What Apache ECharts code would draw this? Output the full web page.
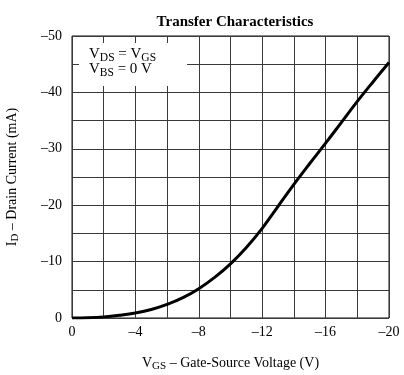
<!DOCTYPE html>
<html><head><meta charset="utf-8">
<script src="https://cdn.jsdelivr.net/npm/echarts@6/dist/echarts.min.js"></script>
<style>html,body{margin:0;padding:0;background:#fff}#c{width:404px;height:375px}</style>
</head><body><div id="c"></div>
<script>
const gateVoltage = [0,-1,-2,-3,-4,-5,-6,-7,-8,-9,-10,-11,-12,-13,-14,-15,-16,-17,-18,-19,-20];
const drainCurrent = [0,-0.05,-0.2,-0.5,-0.9,-1.5,-2.4,-3.6,-5.2,-7.2,-9.6,-12.5,-15.9,-19.8,-23.7,-27.4,-31.0,-34.7,-38.4,-41.9,-45.3];
const xLabelStep = 4;
const yLabelStep = 10;
const titleText = 'Transfer Characteristics';

const FONT = '"Liberation Serif", "DejaVu Serif", serif';
const dash = '\u2013';
function fmt(v){ return v === 0 ? '0' : (v < 0 ? dash + Math.abs(v) : String(v)); }

const chart = echarts.init(document.getElementById('c'), null, {renderer:'canvas'});
chart.setOption({
  animation: false,
  backgroundColor: '#fff',
  title: {
    text: titleText, left: 230, top: 10, textAlign: 'center',
    textStyle: {fontFamily: FONT, fontSize: 15, fontWeight: 'bold', color: '#000'}
  },
  grid: {left: 72, right: 15, top: 36, bottom: 57, containLabel: false, outerBoundsMode: 'none',
    show: true, borderColor: '#111', borderWidth: 1, backgroundColor: 'transparent'},
  xAxis: {
    type: 'value', min: -20, max: 0, interval: 2, inverse: true,
    axisLine: {show: false}, axisTick: {show: false},
    splitLine: {show: true, lineStyle: {color: '#3a3a3a', width: 1}},
    axisLabel: {
      margin: 7, color: '#000', fontFamily: FONT, fontSize: 14,
      formatter: v => (Math.round(v) % xLabelStep === 0 ? fmt(v) : '')
    },
    name: '{m|V}{s|GS}{m| \u2013 Gate-Source Voltage (V)}',
    nameLocation: 'middle', nameGap: 37,
    nameTextStyle: {
      fontFamily: FONT, color: '#000',
      rich: {
        m: {fontFamily: FONT, fontSize: 14, lineHeight: 16, color: '#000'},
        s: {fontFamily: FONT, fontSize: 11, lineHeight: 11, padding: [7,0,0,0], color: '#000'}
      }
    }
  },
  yAxis: {
    type: 'value', min: -50, max: 0, interval: 5, inverse: true,
    axisLine: {show: false}, axisTick: {show: false},
    splitLine: {show: true, lineStyle: {color: '#3a3a3a', width: 1}},
    axisLabel: {
      margin: 10, color: '#000', fontFamily: FONT, fontSize: 14,
      formatter: v => (Math.round(v) % yLabelStep === 0 ? fmt(v) : '')
    },
    name: '{m|I}{s|D}{m| \u2013 Drain Current (mA)}',
    nameLocation: 'middle', nameGap: 52, nameRotate: 90,
    nameTextStyle: {
      fontFamily: FONT, color: '#000',
      rich: {
        m: {fontFamily: FONT, fontSize: 14, lineHeight: 16, color: '#000'},
        s: {fontFamily: FONT, fontSize: 11, lineHeight: 11, padding: [7,0,0,0], color: '#000'}
      }
    }
  },
  graphic: [
    {type: 'rect', shape: {x: 79, y: 43, width: 108, height: 43}, style: {fill: '#fff'}, z: 10},
    {type: 'text', x: 89, y: 47, z: 11, style: {
      text: '{m|V}{s|DS}{m| = V}{s|GS}\n{m|V}{s|BS}{m| = 0 V}',
      fontFamily: FONT, fill: '#000',
      rich: {
        m: {fontFamily: FONT, fontSize: 15, lineHeight: 15, fill: '#000'},
        s: {fontFamily: FONT, fontSize: 11.5, lineHeight: 11, padding: [6,0,0,0], fill: '#000'}
      }
    }}
  ],
  series: [{
    type: 'line', data: gateVoltage.map((v,i) => [v, drainCurrent[i]]),
    smooth: 0.4, showSymbol: false, symbol: 'none',
    lineStyle: {color: '#000', width: 3}, z: 5
  }]
});
</script></body></html>
